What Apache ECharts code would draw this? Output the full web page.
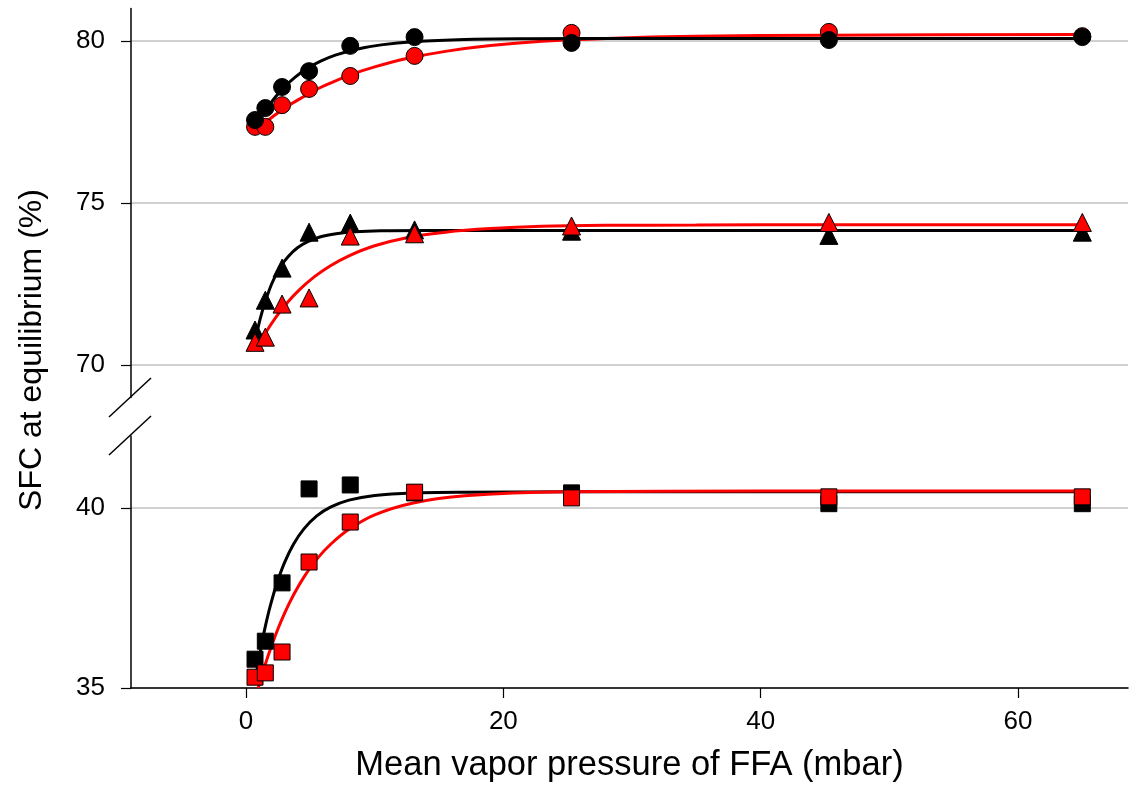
<!DOCTYPE html>
<html>
<head>
<meta charset="utf-8">
<script src="https://cdn.jsdelivr.net/npm/echarts@6/dist/echarts.min.js"></script>
<style>html,body{margin:0;padding:0;background:#fff;}#c{width:1129px;height:786px;}</style>
</head>
<body>
<div id="c"></div>
<script>
// measured x positions (mbar)
const xVals = [0.7, 1.5, 2.8, 4.9, 8.1, 13.1, 25.3, 45.3, 65.0];
const circlesBlack = [77.56, 77.93, 78.58, 79.07, 79.85, 80.12, 79.94, 80.03, 80.12];
const circlesRed = [77.35, 77.35, 78.02, 78.52, 78.92, 79.54, 80.25, 80.28, 80.15];
const trianglesBlack = [71.08, 72.0, 72.99, 74.1, 74.38, 74.17, 74.13, 74.0, 74.1];
const trianglesRed = [70.7, 70.86, 71.88, 72.07, 73.98, 74.05, 74.29, 74.4, 74.4];
const squaresBlack = [35.8, 36.3, 37.92, 40.53, 40.64, 40.42, 40.42, 40.12, 40.12];
const squaresRed = [35.3, 35.42, 36.0, 38.5, 39.61, 40.44, 40.28, 40.31, 40.31];

// fitted curves, points
const fitCirclesBlackX = [0.7, 1.2, 1.7, 2.3, 3.0, 3.8, 4.7, 5.8, 7, 8.5, 10.5, 13, 17, 22, 30, 45, 65];
const fitCirclesBlackY = [77.30, 77.65, 77.96, 78.28, 78.59, 78.88, 79.14, 79.38, 79.57, 79.74, 79.88, 79.98, 80.05, 80.07, 80.08, 80.08, 80.08];
const fitCirclesRedX = [0.8, 1.5, 2.3, 3.2, 4.2, 5.3, 6.5, 8, 10, 12.5, 15.5, 19, 23, 28, 35, 45, 65];
const fitCirclesRedY = [77.25, 77.48, 77.73, 77.98, 78.22, 78.47, 78.69, 78.94, 79.20, 79.46, 79.68, 79.86, 79.99, 80.08, 80.15, 80.18, 80.2];
const fitTrianglesBlackX = [0.85, 1.1, 1.4, 1.8, 2.2, 2.7, 3.3, 4, 4.8, 5.8, 7, 8.5, 10.5, 14, 20, 35, 65];
const fitTrianglesBlackY = [71.0, 71.42, 71.84, 72.31, 72.68, 73.05, 73.36, 73.62, 73.81, 73.96, 74.05, 74.11, 74.14, 74.15, 74.15, 74.15, 74.15];
const fitTrianglesRedX = [0.8, 1.5, 2.3, 3.2, 4.2, 5.3, 6.5, 8, 10, 12.5, 15.5, 19, 23, 28, 35, 45, 65];
const fitTrianglesRedY = [70.5, 70.98, 71.46, 71.92, 72.34, 72.72, 73.05, 73.37, 73.68, 73.93, 74.10, 74.21, 74.28, 74.31, 74.32, 74.33, 74.33];
const fitSquaresBlackX = [0.85, 1.2, 1.5, 1.9, 2.4, 3.0, 3.7, 4.5, 5.5, 6.6, 8, 10, 13, 17, 25, 40, 65];
const fitSquaresBlackY = [35.5, 36.19, 36.71, 37.30, 37.91, 38.49, 39.0, 39.42, 39.78, 40.03, 40.22, 40.35, 40.42, 40.44, 40.45, 40.45, 40.45];
const fitSquaresRedX = [0.95, 1.2, 1.5, 1.9, 2.4, 3.0, 3.7, 4.5, 5.5, 6.6, 8, 10, 13, 17, 25, 40, 65];
const fitSquaresRedY = [35.0, 35.31, 35.66, 36.08, 36.57, 37.08, 37.59, 38.08, 38.58, 39.0, 39.41, 39.81, 40.14, 40.34, 40.45, 40.47, 40.47];

const xTicks = [0, 20, 40, 60];
const yTicksUpper = [70, 75, 80];
const yTicksLower = [35, 40];

const pairs = (xs, ys) => xs.map((x, i) => [x, ys[i]]);
const FONT = 'Liberation Sans, Arial, sans-serif';

function lineSeries(xs, ys, color, gi) {
  return {
    type: 'line', xAxisIndex: gi, yAxisIndex: gi, data: pairs(xs, ys),
    showSymbol: false, symbol: 'none', smooth: 0.3,
    lineStyle: { color: color, width: 3 }, z: 2, silent: true
  };
}
function scatterSeries(ys, color, symbol, size, gi) {
  return {
    type: 'scatter', xAxisIndex: gi, yAxisIndex: gi, data: pairs(xVals, ys),
    symbol: symbol, symbolSize: size,
    itemStyle: { color: color, borderColor: '#000', borderWidth: 1, opacity: 1 }, z: 3
  };
}

const chart = echarts.init(document.getElementById('c'), null, { renderer: 'canvas' });
const xCommon = { type: 'value', min: -8.94, max: 68.55 };
const yLine = { show: true, onZero: false, lineStyle: { color: '#000', width: 1.5 } };
const tickStyle = { color: '#000', width: 1.2 };
chart.setOption({
  animation: false,
  backgroundColor: '#fff',
  grid: [
    { left: 131, right: 1, top: 8.6, height: 388.8 },
    { left: 131, right: 1, top: 436, bottom: 98 }
  ],
  xAxis: [
    Object.assign({}, xCommon, { gridIndex: 0, show: false }),
    Object.assign({}, xCommon, {
      gridIndex: 1,
      axisLine: { show: true, onZero: false, lineStyle: { color: '#000', width: 1.5 } },
      axisTick: { show: true, inside: false, length: 10, lineStyle: tickStyle, customValues: xTicks },
      axisLabel: { customValues: xTicks, color: '#000', fontSize: 26, fontFamily: FONT, margin: 21 },
      splitLine: { show: false },
      name: 'Mean vapor pressure of FFA (mbar)', nameLocation: 'middle', nameGap: 60,
      nameTextStyle: { color: '#000', fontSize: 34.5, fontFamily: FONT }
    })
  ],
  yAxis: [
    {
      type: 'value', gridIndex: 0, min: 69, max: 81,
      axisLine: yLine,
      axisTick: { show: true, inside: false, length: 10, lineStyle: tickStyle, customValues: yTicksUpper },
      axisLabel: { customValues: yTicksUpper, color: '#000', fontSize: 26, fontFamily: FONT, margin: 26 },
      splitLine: { show: true, lineStyle: { color: '#c0c0c0', width: 1.5 } }
    },
    {
      type: 'value', gridIndex: 1, min: 35, max: 42,
      axisLine: yLine,
      axisTick: { show: true, inside: false, length: 10, lineStyle: tickStyle, customValues: yTicksLower },
      axisLabel: { customValues: yTicksLower, color: '#000', fontSize: 26, fontFamily: FONT, margin: 26 },
      splitLine: { show: true, lineStyle: { color: '#c0c0c0', width: 1.5 } }
    }
  ],
  graphic: [
    { type: 'line', shape: { x1: 109, y1: 417, x2: 151, y2: 378 }, style: { stroke: '#000', lineWidth: 1.5 } },
    { type: 'line', shape: { x1: 109, y1: 455, x2: 151, y2: 416 }, style: { stroke: '#000', lineWidth: 1.5 } },
    { type: 'text', x: 32, y: 350, rotation: Math.PI / 2, style: { text: 'SFC at equilibrium (%)', fill: '#000', font: '32px ' + FONT, textAlign: 'center', textVerticalAlign: 'middle' } }
  ],
  series: [
    lineSeries(fitCirclesRedX, fitCirclesRedY, '#ff0000', 0),
    lineSeries(fitCirclesBlackX, fitCirclesBlackY, '#000000', 0),
    lineSeries(fitTrianglesBlackX, fitTrianglesBlackY, '#000000', 0),
    lineSeries(fitTrianglesRedX, fitTrianglesRedY, '#ff0000', 0),
    lineSeries(fitSquaresBlackX, fitSquaresBlackY, '#000000', 1),
    lineSeries(fitSquaresRedX, fitSquaresRedY, '#ff0000', 1),
    scatterSeries(circlesRed, '#ff0000', 'circle', 17, 0),
    scatterSeries(circlesBlack, '#000000', 'circle', 17, 0),
    scatterSeries(trianglesBlack, '#000000', 'triangle', 18, 0),
    scatterSeries(trianglesRed, '#ff0000', 'triangle', 18, 0),
    scatterSeries(squaresBlack, '#000000', 'rect', 16, 1),
    scatterSeries(squaresRed, '#ff0000', 'rect', 16, 1)
  ]
});
</script>
</body>
</html>
